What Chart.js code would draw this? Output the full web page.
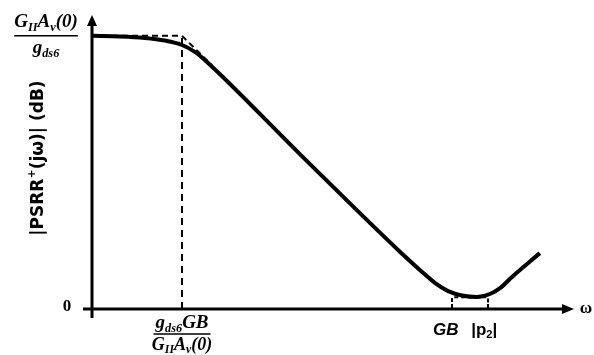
<!DOCTYPE html>
<html>
<head>
<meta charset="utf-8">
<script src="https://cdn.jsdelivr.net/npm/chart.js@4.4.1/dist/chart.umd.min.js"></script>
<style>
html,body{margin:0;padding:0;background:#fff;}
canvas{display:block;}
</style>
</head>
<body>
<canvas id="c" width="594" height="355"></canvas>
<script>
// normalized log-frequency (0..100) and normalized |PSRR+| in dB (0..100)
const logW   = [0, 5.8, 11.0, 15.2, 18.75, 21.5, 23.5, 43.3, 64.2, 68.3, 71.5, 74.2, 77.1, 80.2, 82.9, 85, 87.5, 93.3];
const psrrDb = [92.9, 92.7, 92.2, 91.3, 89.8, 87.4, 84.7, 52.7, 19.4, 13.3, 8.8, 6.1, 4.6, 4.1, 5.1, 7.1, 10.9, 19.0];
// asymptotes (dashed)
const highAsymX = [0, 18.75, 25];
const highAsymY = [92.9, 92.9, 82.9];
const cornerX   = [18.75, 18.75];
const cornerY   = [0, 92.9];
const lowAsymX  = [75, 75, 82.5, 82.5];
const lowAsymY  = [0, 4, 4, 0];
// label positions (data units)
const dcLevel = 92.9;
const gbX = 73.7, p2X = 81.7;

function pts(xs, ys){ return xs.map((x,i)=>({x:x,y:ys[i]})); }

function drawRich(ctx, segs, cx, cy, size, style, family){
  const w = segs.reduce((a,s)=>{
    const sz = (s.sub||s.sup) ? size*0.65 : size;
    ctx.font = style+' '+sz+'px '+family;
    return a + ctx.measureText(s.t).width;
  },0);
  let x = cx - w/2;
  ctx.textBaseline = 'middle';
  ctx.textAlign = 'left';
  segs.forEach(s=>{
    const sz = (s.sub||s.sup) ? size*0.65 : size;
    ctx.font = style+' '+sz+'px '+family;
    const dy = s.sub ? size*0.3 : (s.sup ? -size*0.4 : 0);
    ctx.fillText(s.t, x, cy+dy);
    x += ctx.measureText(s.t).width;
  });
  return w;
}

const decor = {
  id:'decor',
  afterDraw(chart){
    const ctx = chart.ctx, xs = chart.scales.x, ys = chart.scales.y;
    const x0 = xs.getPixelForValue(0), y0 = ys.getPixelForValue(0);
    const xEnd = xs.getPixelForValue(100), yTop = ys.getPixelForValue(100);
    ctx.save();
    ctx.strokeStyle = '#000'; ctx.fillStyle = '#000';
    ctx.lineWidth = 3;
    // y axis
    ctx.beginPath(); ctx.moveTo(x0, y0+9); ctx.lineTo(x0, yTop+8); ctx.stroke();
    ctx.beginPath(); ctx.moveTo(x0, yTop); ctx.lineTo(x0-5, yTop+11); ctx.lineTo(x0+5, yTop+11); ctx.closePath(); ctx.fill();
    // x axis
    ctx.beginPath(); ctx.moveTo(x0-9, y0); ctx.lineTo(xEnd-6, y0); ctx.stroke();
    ctx.beginPath(); ctx.moveTo(xEnd+2, y0); ctx.lineTo(xEnd-10, y0-5); ctx.lineTo(xEnd-10, y0+5); ctx.closePath(); ctx.fill();
    ctx.fillStyle = '#000';
    // top level label
    const yl = ys.getPixelForValue(dcLevel);
    const fam = '"Liberation Serif", serif';
    const w1 = drawRich(ctx, [{t:'G'},{t:'II',sub:true},{t:'A'},{t:'v',sub:true},{t:'(0)'}], 46, yl-14, 19, 'italic bold', fam);
    ctx.lineWidth = 1.5;
    ctx.beginPath(); ctx.moveTo(46-w1/2, yl); ctx.lineTo(46+w1/2, yl); ctx.stroke();
    drawRich(ctx, [{t:'g'},{t:'ds6',sub:true}], 46, yl+12, 19, 'italic bold', fam);
    // zero
    ctx.font = 'bold 17px '+fam; ctx.textAlign='center'; ctx.textBaseline='middle';
    ctx.fillText('0', 67, y0-2);
    // omega
    ctx.fillText('ω', 586, y0);
    // corner label
    const cx = xs.getPixelForValue(cornerX[0]);
    const w2 = drawRich(ctx, [{t:'g'},{t:'ds6',sub:true},{t:'GB'}], cx, y0+14, 19, 'italic bold', fam);
    ctx.lineWidth = 1.5;
    ctx.beginPath(); ctx.moveTo(cx-w2/2-2, y0+25); ctx.lineTo(cx+w2/2+2, y0+25); ctx.stroke();
    drawRich(ctx, [{t:'G'},{t:'II',sub:true},{t:'A'},{t:'v',sub:true},{t:'(0)'}], cx, y0+36, 18, 'italic bold', fam);
    // GB, |p2|
    const sans = '"Liberation Sans", sans-serif';
    drawRich(ctx, [{t:'GB'}], xs.getPixelForValue(gbX), y0+21, 17, 'italic bold', sans);
    drawRich(ctx, [{t:'|p'},{t:'2',sub:true},{t:'|'}], xs.getPixelForValue(p2X), y0+21, 17, 'bold', sans);
    // y label rotated
    ctx.save();
    ctx.translate(39, 158); ctx.rotate(-Math.PI/2);
    drawRich(ctx, [{t:'|PSRR'},{t:'+',sup:true},{t:'(jω)| (dB)'}], 0, 0, 17, 'bold', '"DejaVu Sans", sans-serif');
    ctx.restore();
    // small ticks
    ctx.lineWidth = 2;
    [cornerX[0], lowAsymX[0], lowAsymX[2]].forEach(v=>{
      const px = xs.getPixelForValue(v);
      ctx.beginPath(); ctx.moveTo(px, y0-5); ctx.lineTo(px, y0); ctx.stroke();
    });
    ctx.restore();
  }
};

new Chart(document.getElementById('c'), {
  type:'line',
  data:{datasets:[
    {data:pts(logW, psrrDb), borderColor:'#000', borderWidth:4, pointRadius:0, cubicInterpolationMode:'monotone', fill:false},
    {data:pts(highAsymX, highAsymY), borderColor:'#000', borderWidth:2, borderDash:[6,4], pointRadius:0, tension:0},
    {data:pts(cornerX, cornerY), borderColor:'#000', borderWidth:2, borderDash:[7,5], pointRadius:0, tension:0},
    {data:pts(lowAsymX, lowAsymY), borderColor:'#000', borderWidth:2, borderDash:[4,3], pointRadius:0, tension:0}
  ]},
  options:{
    responsive:false, animation:false, devicePixelRatio:1,
    layout:{padding:{left:92, right:22, top:15, bottom:46}},
    plugins:{legend:{display:false}, tooltip:{enabled:false}},
    scales:{
      x:{type:'linear', min:0, max:100, display:false},
      y:{type:'linear', min:0, max:100, display:false}
    }
  },
  plugins:[decor]
});
</script>
</body>
</html>
